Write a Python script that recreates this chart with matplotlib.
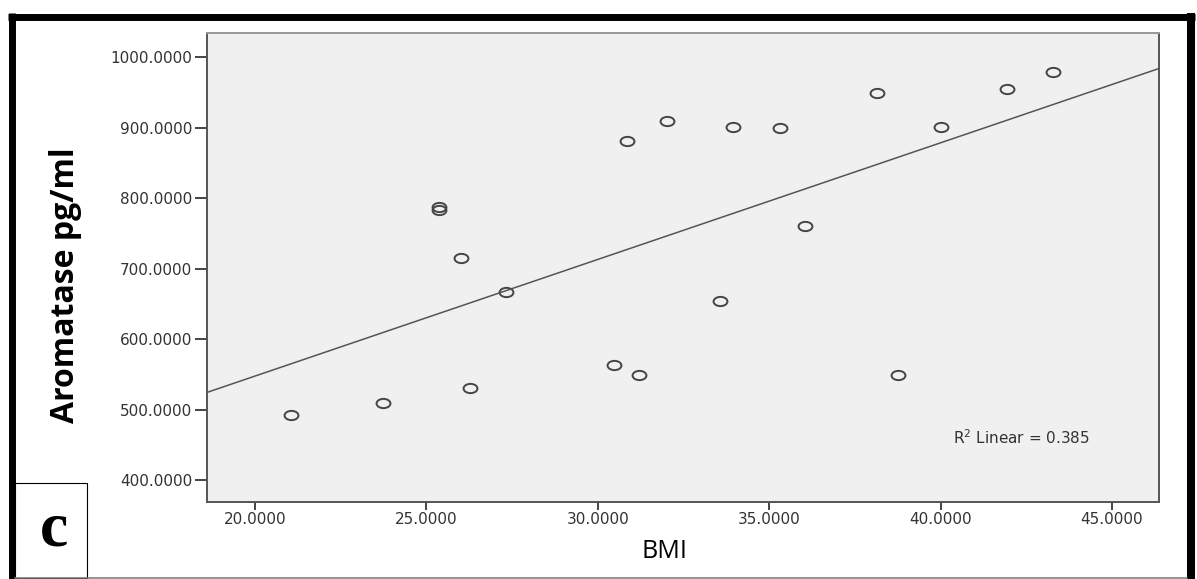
import matplotlib
matplotlib.use("Agg")
import matplotlib.pyplot as plt
import numpy as np
from matplotlib.path import Path
from matplotlib.transforms import Affine2D
from matplotlib.lines import Line2D
from matplotlib.patches import Rectangle

# data
bmi = [21.05, 23.74, 25.37, 25.37, 26.01, 26.28, 27.33, 30.48, 30.86, 31.21,
       32.03, 33.57, 33.95, 35.32, 36.05, 38.13, 38.75, 40.00, 41.93, 43.28]
aromatase = [493, 509, 787, 783, 715, 530, 667, 563, 881, 549,
             909, 654, 901, 899, 760, 949, 549, 901, 954, 979]
x_ticks = [20, 25, 30, 35, 40, 45]
y_ticks = [400, 500, 600, 700, 800, 900, 1000]
r2_text = r"R$^2$ Linear = 0.385"

W, H = 1197, 579
fig = plt.figure(figsize=(W / 100, H / 100), dpi=100)
fig.patch.set_facecolor("white")

def fx(px):
    return px / W

def fy(py):
    return 1 - py / H

ax = fig.add_axes([fx(207), fy(502), fx(1159) - fx(207), fy(33) - fy(502)])
ax.set_facecolor("#f0f0f0")

# open, slightly wide circles like the SPSS export
ellipse = Path.unit_circle().transformed(Affine2D().scale(1.5, 1.0))
ax.plot(bmi, aromatase, linestyle="none", marker=ellipse, markersize=10,
        markerfacecolor="none", markeredgecolor="#444444", markeredgewidth=1.4)

# fit line across the whole x range
xlim = (18.6, 46.37)
slope, icept = np.polyfit(bmi, aromatase, 1)
xs = np.array(xlim)
ax.plot(xs, slope * xs + icept, color="#555555", linewidth=1.1)

ax.set_xlim(xlim)
ax.set_ylim(369, 1034)
ax.set_xticks(x_ticks)
ax.set_yticks(y_ticks)
ax.set_xticklabels(["%.4f" % v for v in x_ticks])
ax.set_yticklabels(["%.4f" % v for v in y_ticks])
ax.tick_params(axis="x", length=5.4, width=1.4, color="#444444", pad=2,
               labelsize=11, labelcolor="#333333")
ax.tick_params(axis="y", length=8.6, width=1.4, color="#444444", pad=2,
               labelsize=11, labelcolor="#333333")

for side in ["left", "bottom", "right"]:
    ax.spines[side].set_color("#555555")
    ax.spines[side].set_linewidth(1.4)
ax.spines["top"].set_color("#999999")
ax.spines["top"].set_linewidth(1.4)

fig.text(fx(953), fy(438), r2_text, fontsize=11, color="#333333",
         ha="left", va="center")

fig.text(fx(66), fy(285), "Aromatase pg/ml", rotation=90, ha="center",
         va="center", fontsize=23, fontweight="bold", family="Open Sans")
fig.text(fx(665), fy(552), "BMI", ha="center", va="center", fontsize=18,
         family="Open Sans")

# outer frame from the figure panel
fig.add_artist(Line2D([fx(8), fx(1195)], [fy(16.5), fy(16.5)],
                      color="black", linewidth=5.0, solid_capstyle="butt"))
fig.add_artist(Line2D([fx(11.5), fx(11.5)], [fy(13), fy(579)],
                      color="black", linewidth=5.0, solid_capstyle="butt"))
fig.add_artist(Line2D([fx(1191), fx(1191)], [fy(13), fy(579)],
                      color="black", linewidth=5.8, solid_capstyle="butt"))
fig.add_artist(Line2D([fx(15), fx(1187)], [fy(577.5), fy(577.5)],
                      color="#777777", linewidth=1.1))

# panel letter box
fig.add_artist(Rectangle((fx(15), fy(578)), fx(87) - fx(15), fy(483) - fy(578),
                         transform=fig.transFigure, facecolor="white",
                         edgecolor="black", linewidth=0.8))
fig.text(fx(54), fy(530), "c", ha="center", va="center", fontsize=46,
         fontweight="bold", family="Liberation Serif")

fig.savefig("out.png", dpi=100)
